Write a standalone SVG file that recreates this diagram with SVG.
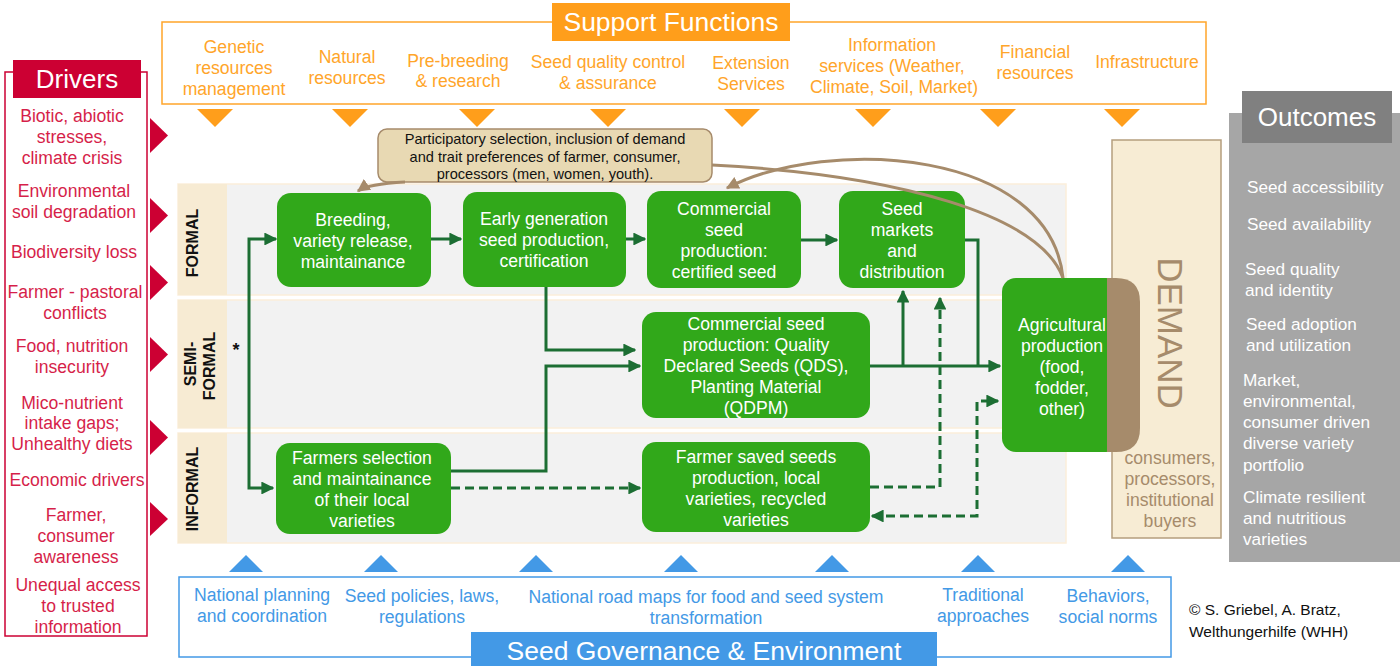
<svg xmlns="http://www.w3.org/2000/svg" width="1400" height="666" viewBox="0 0 1400 666">
<style>
text{font-family:"Liberation Sans",Arial,sans-serif}
.drv{fill:#D61F4A;font-size:17.6px;text-anchor:middle}
.sup{fill:#FFA52A;font-size:17.6px;text-anchor:middle}
.gov{fill:#4399E6;font-size:17.6px;text-anchor:middle}
.box{fill:#31A81A}
.bt{fill:#fff;font-size:17.6px;text-anchor:middle}
.out{fill:#fff;font-size:17.2px}
.lane{fill:#F2F2F2;stroke:#FBEEDA;stroke-width:1.5}
.lbl{fill:#F7EBD3}
.lt{font-size:16px;font-weight:bold;fill:#111;text-anchor:middle}
.con{fill:none;stroke:#1C6E33;stroke-width:3}
.dash{stroke-dasharray:9 5}
.brn{fill:none;stroke:#A68B6B;stroke-width:3}
.dem{fill:#A68B6B;font-size:17.6px;text-anchor:middle}
</style>
<defs>
<marker id="ag" viewBox="0 0 10 10" refX="9" refY="5" markerWidth="4.3" markerHeight="4.3" orient="auto-start-reverse"><path d="M0,0 L10,5 L0,10 z" fill="#1C6E33"/></marker>
<marker id="ab" viewBox="0 0 10 10" refX="9" refY="5" markerWidth="4.3" markerHeight="4.3" orient="auto"><path d="M0,0 L10,5 L0,10 z" fill="#A68B6B"/></marker>
</defs>

<g id="drivers">
<rect x="5" y="72" width="142" height="564" fill="#fff" stroke="#CC0033" stroke-width="1.5"/>
<rect x="13" y="60" width="128" height="38" fill="#CC0033"/>
<text x="77" y="88" fill="#fff" font-size="26" text-anchor="middle">Drivers</text>
<text class="drv" x="72" y="122">Biotic, abiotic</text>
<text class="drv" x="72" y="143">stresses,</text>
<text class="drv" x="72" y="164">climate crisis</text>
<text class="drv" x="74" y="197">Environmental</text>
<text class="drv" x="74" y="218">soil degradation</text>
<text class="drv" x="74" y="258">Biodiversity loss</text>
<text class="drv" x="75" y="298">Farmer - pastoral</text>
<text class="drv" x="75" y="319">conflicts</text>
<text class="drv" x="72" y="352">Food, nutrition</text>
<text class="drv" x="72" y="373">insecurity</text>
<text class="drv" x="72" y="409">Mico-nutrient</text>
<text class="drv" x="72" y="429">intake gaps;</text>
<text class="drv" x="72" y="450">Unhealthy diets</text>
<text class="drv" x="77" y="486">Economic drivers</text>
<text class="drv" x="76" y="521">Farmer,</text>
<text class="drv" x="76" y="542">consumer</text>
<text class="drv" x="76" y="563">awareness</text>
<text class="drv" x="78" y="591">Unequal access</text>
<text class="drv" x="78" y="612">to trusted</text>
<text class="drv" x="78" y="633">information</text>
<g fill="#CC0033">
<path d="M150,118 L168,135.5 L150,153 z"/>
<path d="M150,198 L168,215.5 L150,233 z"/>
<path d="M150,265 L168,282.5 L150,300 z"/>
<path d="M150,337 L168,354.5 L150,372 z"/>
<path d="M150,420 L168,437.5 L150,455 z"/>
<path d="M150,502 L168,519 L150,536 z"/>
</g>
</g>

<g id="support">
<rect x="162" y="22" width="1044" height="82" fill="#fff" stroke="#FFA52A" stroke-width="1.5"/>
<rect x="552" y="3" width="238" height="38" fill="#FF9E1B"/>
<text x="671" y="31" fill="#fff" font-size="26.5" text-anchor="middle">Support Functions</text>
<text class="sup" x="234" y="53">Genetic</text>
<text class="sup" x="234" y="74">resources</text>
<text class="sup" x="234" y="95">management</text>
<text class="sup" x="347" y="63">Natural</text>
<text class="sup" x="347" y="84">resources</text>
<text class="sup" x="458" y="67">Pre-breeding</text>
<text class="sup" x="458" y="87">&amp; research</text>
<text class="sup" x="608" y="68">Seed quality control</text>
<text class="sup" x="608" y="89">&amp; assurance</text>
<text class="sup" x="751" y="69">Extension</text>
<text class="sup" x="751" y="90">Services</text>
<text class="sup" x="892" y="51">Information</text>
<text class="sup" x="892" y="72">services (Weather,</text>
<text class="sup" x="894" y="93">Climate, Soil, Market)</text>
<text class="sup" x="1035" y="58">Financial</text>
<text class="sup" x="1035" y="79">resources</text>
<text class="sup" x="1147" y="68">Infrastructure</text>
<g fill="#FF9E1B">
<path d="M197,109 L233,109 L215,127 z"/>
<path d="M332,109 L368,109 L350,127 z"/>
<path d="M459,109 L495,109 L477,127 z"/>
<path d="M590,109 L626,109 L608,127 z"/>
<path d="M724,109 L760,109 L742,127 z"/>
<path d="M855,109 L891,109 L873,127 z"/>
<path d="M980,109 L1016,109 L998,127 z"/>
<path d="M1104,109 L1140,109 L1122,127 z"/>
</g>
</g>

<g id="lanes">
<rect class="lane" x="178" y="184" width="888" height="111"/>
<rect class="lbl" x="178" y="184" width="49" height="111"/>
<rect class="lane" x="178" y="300" width="888" height="128"/>
<rect class="lbl" x="178" y="300" width="49" height="128"/>
<rect class="lane" x="178" y="433" width="888" height="110"/>
<rect class="lbl" x="178" y="433" width="49" height="110"/>
<text class="lt" transform="translate(198,243) rotate(-90)">FORMAL</text>
<text class="lt" transform="translate(196,364) rotate(-90)">SEMI-</text>
<text class="lt" transform="translate(215,366) rotate(-90)">FORMAL</text>
<text class="lt" transform="translate(198,489) rotate(-90)">INFORMAL</text>
<text x="236" y="356" font-size="18" font-weight="bold" fill="#111" text-anchor="middle">*</text>
</g>

<g id="demand">
<rect x="1112" y="140" width="109" height="398" fill="#F7ECD4" stroke="#B59E7E" stroke-width="1.5"/>
<text transform="translate(1158,333) rotate(90)" fill="#A68B6B" font-size="35" text-anchor="middle">DEMAND</text>
<text class="dem" x="1170" y="464">consumers,</text>
<text class="dem" x="1170" y="485">processors,</text>
<text class="dem" x="1170" y="506">institutional</text>
<text class="dem" x="1170" y="527">buyers</text>
</g>

<g id="outcomes">
<rect x="1229" y="113" width="171" height="449" fill="#A6A6A6"/>
<rect x="1242" y="91" width="150" height="52" fill="#808080"/>
<text x="1317" y="126" fill="#fff" font-size="26" text-anchor="middle">Outcomes</text>
<text class="out" x="1247" y="193">Seed accessibility</text>
<text class="out" x="1247" y="230">Seed availability</text>
<text class="out" x="1245" y="275">Seed quality</text>
<text class="out" x="1245" y="296">and identity</text>
<text class="out" x="1246" y="330">Seed adoption</text>
<text class="out" x="1246" y="351">and utilization</text>
<text class="out" x="1243" y="386">Market,</text>
<text class="out" x="1243" y="407">environmental,</text>
<text class="out" x="1243" y="428">consumer driven</text>
<text class="out" x="1243" y="449">diverse variety</text>
<text class="out" x="1243" y="471">portfolio</text>
<text class="out" x="1243" y="503">Climate resilient</text>
<text class="out" x="1243" y="524">and nutritious</text>
<text class="out" x="1243" y="545">varieties</text>
</g>

<g id="governance">
<rect x="179" y="577" width="992" height="80" fill="#fff" stroke="#4399E6" stroke-width="1.5"/>
<rect x="471" y="632" width="466" height="34" fill="#4399E6"/>
<text x="704" y="660" fill="#fff" font-size="26.5" text-anchor="middle">Seed Governance &amp; Environment</text>
<text class="gov" x="262" y="601">National planning</text>
<text class="gov" x="262" y="622">and coordination</text>
<text class="gov" x="422" y="602">Seed policies, laws,</text>
<text class="gov" x="422" y="623">regulations</text>
<text class="gov" x="706" y="603">National road maps for food and seed system</text>
<text class="gov" x="706" y="624">transformation</text>
<text class="gov" x="983" y="601">Traditional</text>
<text class="gov" x="983" y="622">approaches</text>
<text class="gov" x="1108" y="602">Behaviors,</text>
<text class="gov" x="1108" y="623">social norms</text>
<g fill="#4399E6">
<path d="M229,572 L263,572 L246,555 z"/>
<path d="M364,572 L398,572 L381,555 z"/>
<path d="M519,572 L553,572 L536,555 z"/>
<path d="M664,572 L698,572 L681,555 z"/>
<path d="M815,572 L849,572 L832,555 z"/>
<path d="M961,572 L995,572 L978,555 z"/>
<path d="M1111,572 L1145,572 L1128,555 z"/>
</g>
</g>

<g id="credit">
<text x="1189" y="615" font-size="15.5" fill="#111">© S. Griebel, A. Bratz,</text>
<text x="1189" y="637" font-size="15.5" fill="#111">Welthungerhilfe (WHH)</text>
</g>

<g id="connectors">
<path class="con" d="M276,239 L249,239 L249,488 L273,488" marker-start="url(#ag)" marker-end="url(#ag)"/>
<path class="con" d="M431,239 L461,239" marker-end="url(#ag)"/>
<path class="con" d="M626,239 L645,239" marker-end="url(#ag)"/>
<path class="con" d="M801,240 L837,240" marker-end="url(#ag)"/>
<path class="con" d="M546,287 L546,350 L635,350" marker-end="url(#ag)"/>
<path class="con" d="M451,471 L546,471 L546,366 L640,366" marker-end="url(#ag)"/>
<path class="con dash" d="M451,488 L640,488" marker-end="url(#ag)"/>
<path class="con" d="M870,366 L1000,366" marker-end="url(#ag)"/>
<path class="con" d="M903,366 L903,291" marker-end="url(#ag)"/>
<path class="con" d="M965,240 L978,240 L978,366"/>
<path class="con dash" d="M870,487 L940,487 L940,298" marker-end="url(#ag)"/>
<path class="con dash" d="M872,516 L977,516 L977,401 L998,401" marker-start="url(#ag)" marker-end="url(#ag)"/>
</g>

<g id="n-breeding">
<rect class="box" x="277" y="193" width="154" height="94" rx="14"/>
<text class="bt" x="353" y="226">Breeding,</text>
<text class="bt" x="353" y="247">variety release,</text>
<text class="bt" x="353" y="268">maintainance</text>
</g>
<g id="n-early">
<rect class="box" x="463" y="192" width="163" height="95" rx="14"/>
<text class="bt" x="544" y="225">Early generation</text>
<text class="bt" x="544" y="246">seed production,</text>
<text class="bt" x="544" y="267">certification</text>
</g>
<g id="n-commercial">
<rect class="box" x="647" y="191" width="154" height="97" rx="14"/>
<text class="bt" x="724" y="215">Commercial</text>
<text class="bt" x="724" y="236">seed</text>
<text class="bt" x="724" y="257">production:</text>
<text class="bt" x="724" y="278">certified seed</text>
</g>
<g id="n-markets">
<rect class="box" x="839" y="191" width="126" height="97" rx="14"/>
<text class="bt" x="902" y="215">Seed</text>
<text class="bt" x="902" y="236">markets</text>
<text class="bt" x="902" y="257">and</text>
<text class="bt" x="902" y="278">distribution</text>
</g>
<g id="n-qds">
<rect class="box" x="642" y="312" width="228" height="106" rx="14"/>
<text class="bt" x="756" y="330">Commercial seed</text>
<text class="bt" x="756" y="351">production: Quality</text>
<text class="bt" x="756" y="372">Declared Seeds (QDS),</text>
<text class="bt" x="756" y="393">Planting Material</text>
<text class="bt" x="756" y="414">(QDPM)</text>
</g>
<g id="n-farmers-selection">
<rect class="box" x="276" y="443" width="175" height="91" rx="14"/>
<text class="bt" x="362" y="464">Farmers selection</text>
<text class="bt" x="362" y="485">and maintainance</text>
<text class="bt" x="362" y="506">of their local</text>
<text class="bt" x="362" y="527">varieties</text>
</g>
<g id="n-farmer-saved">
<rect class="box" x="642" y="442" width="228" height="90" rx="14"/>
<text class="bt" x="756" y="463">Farmer saved seeds</text>
<text class="bt" x="756" y="484">production, local</text>
<text class="bt" x="756" y="505">varieties, recycled</text>
<text class="bt" x="756" y="526">varieties</text>
</g>
<g id="n-agri">
<rect class="box" x="1002" y="278" width="118" height="174" rx="14"/>
<path d="M1107,278 L1116,278 Q1140,278 1140,302 L1140,428 Q1140,452 1116,452 L1107,452 z" fill="#A68B6B"/>
<text class="bt" x="1062" y="331">Agricultural</text>
<text class="bt" x="1062" y="352">production</text>
<text class="bt" x="1062" y="373">(food,</text>
<text class="bt" x="1062" y="394">fodder,</text>
<text class="bt" x="1062" y="415">other)</text>
</g>

<g id="n-participatory">
<rect x="378" y="129" width="334" height="53" rx="9" fill="#E8D9B3" stroke="#A68B6B" stroke-width="1.5"/>
<text x="545" y="144" font-size="14.6" fill="#111" text-anchor="middle">Participatory selection, inclusion of demand</text>
<text x="545" y="162" font-size="14.6" fill="#111" text-anchor="middle">and trait preferences of farmer, consumer,</text>
<text x="545" y="179" font-size="14.6" fill="#111" text-anchor="middle">processors (men, women, youth).</text>
</g>

<g id="feedback">
<path class="brn" d="M712,165 C900,175 1040,215 1063,278"/>
<path class="brn" d="M1063,278 C1050,150 830,135 727,188" marker-end="url(#ab)"/>
<path class="brn" d="M405,182 Q368,184 358,191" marker-end="url(#ab)"/>
</g>
</svg>
